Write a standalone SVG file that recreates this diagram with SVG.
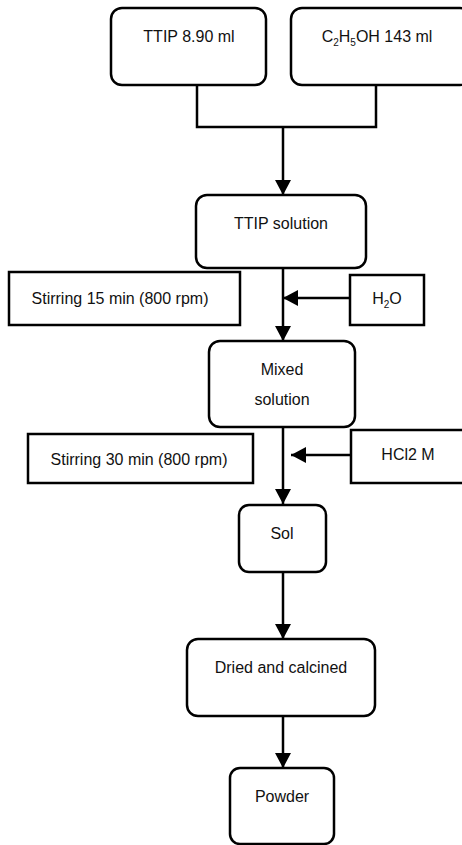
<svg xmlns="http://www.w3.org/2000/svg" width="462" height="845" viewBox="0 0 462 845">
<style>
.n{fill:#fff;stroke:#000;stroke-width:2.5}
.t{font-family:"Liberation Sans",Arial,sans-serif;font-size:16px;fill:#111;text-anchor:middle}
.s{font-size:10px}
.c{fill:none;stroke:#000;stroke-width:2.5}
</style>
<defs>
<marker id="a" viewBox="0 0 15 16" refX="15" refY="8" markerWidth="15" markerHeight="16" orient="auto" markerUnits="userSpaceOnUse">
<path d="M0,0 L15,8 L0,16 z" fill="#000"/>
</marker>
</defs>
<rect width="462" height="845" fill="#fff"/>
<g id="connectors">
<path class="c" d="M197,86 V127 H376 V86"/>
<path class="c" d="M283,127 V195" marker-end="url(#a)"/>
<path class="c" d="M283,268 V341" marker-end="url(#a)"/>
<path class="c" d="M352,298 H283" marker-end="url(#a)"/>
<path class="c" d="M283,427 V504" marker-end="url(#a)"/>
<path class="c" d="M353,455 H291" marker-end="url(#a)"/>
<path class="c" d="M283,572 V639" marker-end="url(#a)"/>
<path class="c" d="M283,716 V768" marker-end="url(#a)"/>
</g>
<g id="ttip">
<rect class="n" x="111" y="8" width="155" height="77" rx="11"/>
<text class="t" x="189" y="42">TTIP 8.90 ml</text>
</g>
<g id="ethanol">
<rect class="n" x="291" y="8" width="180" height="77" rx="11"/>
<text class="t" x="377" y="42">C<tspan class="s" dy="4">2</tspan><tspan dy="-4">H</tspan><tspan class="s" dy="4">5</tspan><tspan dy="-4">OH 143 ml</tspan></text>
</g>
<g id="ttip-solution">
<rect class="n" x="196" y="195" width="170" height="73" rx="11"/>
<text class="t" x="281" y="229">TTIP solution</text>
</g>
<g id="stirring15">
<rect class="n" x="9" y="272" width="231" height="53"/>
<text class="t" x="120" y="304">Stirring 15 min (800 rpm)</text>
</g>
<g id="water">
<rect class="n" x="350" y="275" width="74" height="50"/>
<text class="t" x="387" y="304">H<tspan class="s" dy="4">2</tspan><tspan dy="-4">O</tspan></text>
</g>
<g id="mixed-solution">
<rect class="n" x="209" y="341" width="146" height="86" rx="11"/>
<text class="t" x="282" y="375">Mixed</text>
<text class="t" x="282" y="405">solution</text>
</g>
<g id="stirring30">
<rect class="n" x="28" y="434" width="225" height="49"/>
<text class="t" x="139" y="465">Stirring 30 min (800 rpm)</text>
</g>
<g id="hcl">
<rect class="n" x="351" y="430" width="120" height="53"/>
<text class="t" x="408" y="460">HCl2 M</text>
</g>
<g id="sol">
<rect class="n" x="239" y="505" width="87" height="67" rx="10"/>
<text class="t" x="282" y="539">Sol</text>
</g>
<g id="dried">
<rect class="n" x="187" y="639" width="188" height="77" rx="11"/>
<text class="t" x="281" y="673">Dried and calcined</text>
</g>
<g id="powder">
<rect class="n" x="230" y="768" width="104" height="76" rx="10"/>
<text class="t" x="282" y="802">Powder</text>
</g>
</svg>
